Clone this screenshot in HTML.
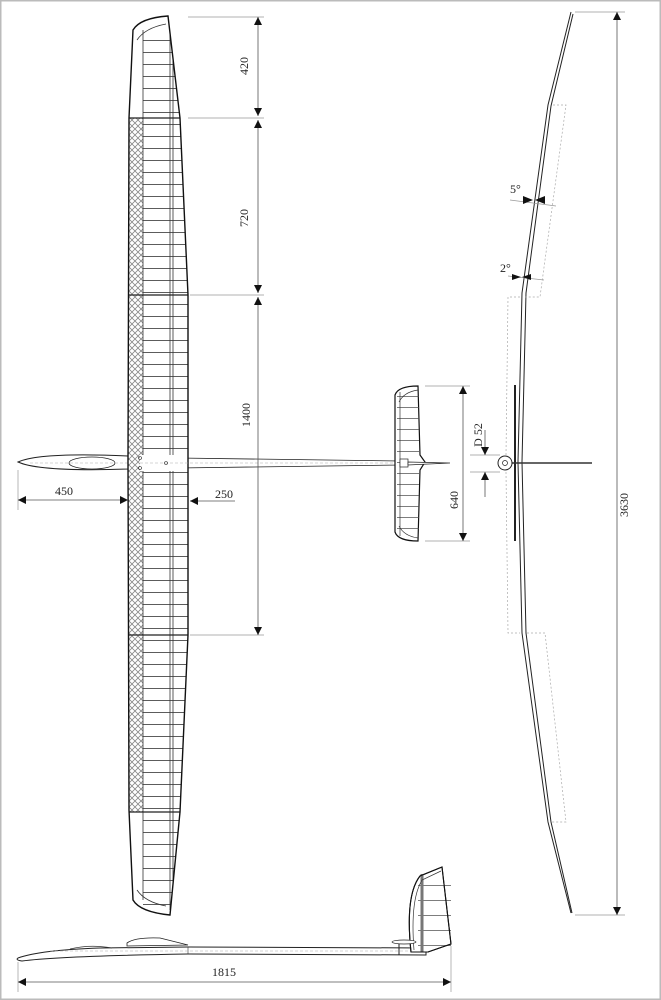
<!DOCTYPE html>
<html><head><meta charset="utf-8"><style>
html,body{margin:0;padding:0;background:#fff}
svg{display:block}
text{font-family:"Liberation Serif",serif;font-size:12px;fill:#222}
</style></head><body>
<svg width="661" height="1000" viewBox="0 0 661 1000" xmlns="http://www.w3.org/2000/svg">
<defs>
<pattern id="ribs" width="10" height="12" patternUnits="userSpaceOnUse" y="4"><line x1="0" y1="0.5" x2="10" y2="0.5" stroke="#333" stroke-width="0.8"/></pattern>
<pattern id="ribs2" width="10" height="11" patternUnits="userSpaceOnUse"><line x1="0" y1="0.5" x2="10" y2="0.5" stroke="#444" stroke-width="0.7"/></pattern>
<pattern id="ribs3" width="10" height="15" patternUnits="userSpaceOnUse"><line x1="0" y1="0.5" x2="10" y2="0.5" stroke="#444" stroke-width="0.7"/></pattern>
<pattern id="hatch" width="6" height="6" patternUnits="userSpaceOnUse"><path d="M0,6 L6,0 M0,0 L6,6" stroke="#888" stroke-width="0.8"/></pattern>
<marker id="a" viewBox="0 0 10 10" refX="10" refY="5" markerWidth="8" markerHeight="8" orient="auto-start-reverse" markerUnits="userSpaceOnUse"><path d="M0,0 L10,5 L0,10 z" fill="#111"/></marker>
<clipPath id="wc"><path d="M133,30 Q140,18 168,16 L180,118 L188,295 L188,635 L180,812 L170,915 Q140,912 133,900 L129,810 L128,462 L129,118 Z"/></clipPath>
</defs>
<rect x="0.5" y="0.5" width="660" height="999" fill="none" stroke="#bbb" stroke-width="2"/>

<!-- fuselage top view -->
<path d="M18,462 Q40,452 128,456 L128,469 Q40,472 18,462 Z" fill="#fff" stroke="#222" stroke-width="1"/>
<ellipse cx="92" cy="463" rx="23" ry="6" fill="#fff" stroke="#222" stroke-width="0.8"/>
<path d="M178,458 L400,461 L400,465 L178,468 Q172,463 178,458 Z" fill="#fff" stroke="#222" stroke-width="0.8"/>
<line x1="30" y1="463" x2="400" y2="463" stroke="#aaa" stroke-width="0.6" stroke-dasharray="3,2"/>

<!-- main wing -->
<g clip-path="url(#wc)">
<rect x="128" y="0" width="70" height="1000" fill="#fff"/>
<rect x="143" y="30" width="45" height="880" fill="url(#ribs)"/>
<rect x="128" y="118" width="15" height="694" fill="url(#hatch)"/>
<line x1="143" y1="30" x2="143" y2="900" stroke="#333" stroke-width="0.8"/>
<line x1="170" y1="20" x2="170" y2="910" stroke="#333" stroke-width="0.8"/>
<line x1="173" y1="20" x2="173" y2="910" stroke="#333" stroke-width="0.8"/>
<line x1="128" y1="118" x2="190" y2="118" stroke="#222" stroke-width="1.2"/>
<line x1="128" y1="295" x2="190" y2="295" stroke="#222" stroke-width="1.2"/>
<line x1="128" y1="635" x2="190" y2="635" stroke="#222" stroke-width="1.2"/>
<line x1="128" y1="812" x2="190" y2="812" stroke="#222" stroke-width="1.2"/>
<rect x="140" y="455" width="50" height="16" fill="#fff"/>
</g>
<path d="M133,30 Q140,18 168,16 L180,118 L188,295 L188,635 L180,812 L170,915 Q140,912 133,900 L129,810 L128,462 L129,118 Z" fill="none" stroke="#111" stroke-width="1.4"/>
<path d="M137,40 Q145,28 166,24" fill="none" stroke="#333" stroke-width="0.8"/>
<path d="M137,890 Q145,902 166,906" fill="none" stroke="#333" stroke-width="0.8"/>
<line x1="140" y1="463" x2="190" y2="463" stroke="#aaa" stroke-width="0.6" stroke-dasharray="3,2"/>
<circle cx="140" cy="458" r="1.5" fill="none" stroke="#222" stroke-width="0.6"/>
<circle cx="140" cy="468" r="1.5" fill="none" stroke="#222" stroke-width="0.6"/>
<circle cx="166" cy="463" r="1.5" fill="none" stroke="#222" stroke-width="0.6"/>

<!-- wing dims -->
<g stroke="#999" stroke-width="0.7">
<line x1="188" y1="17" x2="264" y2="17"/>
<line x1="188" y1="118" x2="264" y2="118"/>
<line x1="190" y1="295" x2="264" y2="295"/>
<line x1="190" y1="635" x2="264" y2="635"/>
<line x1="18" y1="470" x2="18" y2="510"/>
</g>
<g stroke="#555" stroke-width="0.8">
<line x1="258" y1="17" x2="258" y2="116" marker-start="url(#a)" marker-end="url(#a)"/>
<line x1="258" y1="120" x2="258" y2="293" marker-start="url(#a)" marker-end="url(#a)"/>
<line x1="258" y1="297" x2="258" y2="635" marker-start="url(#a)" marker-end="url(#a)"/>
<line x1="18" y1="500" x2="128" y2="500" marker-start="url(#a)" marker-end="url(#a)"/>
<line x1="235" y1="501" x2="190" y2="501" marker-end="url(#a)"/>
</g>
<text transform="translate(248,66) rotate(-90)" text-anchor="middle">420</text>
<text transform="translate(248,218) rotate(-90)" text-anchor="middle">720</text>
<text transform="translate(250,415) rotate(-90)" text-anchor="middle">1400</text>
<text x="64" y="495" text-anchor="middle">450</text>
<text x="224" y="498" text-anchor="middle">250</text>

<!-- tailplane -->
<path d="M395,395 Q398,386 418,386 L420,455 L425,462 L420,470 L418,541 Q398,541 395,532 Z" fill="#fff" stroke="#111" stroke-width="1.2"/>
<rect x="397" y="395" width="22" height="137" fill="url(#ribs2)"/>
<line x1="400" y1="392" x2="400" y2="536" stroke="#333" stroke-width="0.7"/>
<path d="M399,402 Q404,392 418,390" fill="none" stroke="#333" stroke-width="0.7"/>
<path d="M399,526 Q404,536 418,538" fill="none" stroke="#333" stroke-width="0.7"/>
<rect x="400" y="459" width="8" height="8" fill="#fff" stroke="#222" stroke-width="0.7"/>
<path d="M408,462 L450,463 L408,465 Z" fill="#fff" stroke="#222" stroke-width="0.7"/>
<g stroke="#999" stroke-width="0.7">
<line x1="425" y1="386" x2="470" y2="386"/><line x1="425" y1="541" x2="470" y2="541"/>
<line x1="470" y1="455" x2="500" y2="455"/><line x1="470" y1="472" x2="500" y2="472"/>
</g>
<line x1="463" y1="386" x2="463" y2="541" stroke="#555" stroke-width="0.8" marker-start="url(#a)" marker-end="url(#a)"/>
<line x1="485" y1="430" x2="485" y2="455" stroke="#555" stroke-width="0.8" marker-end="url(#a)"/>
<line x1="485" y1="497" x2="485" y2="472" stroke="#555" stroke-width="0.8" marker-end="url(#a)"/>
<text transform="translate(458,500) rotate(-90)" text-anchor="middle">640</text>
<text transform="translate(482,435) rotate(-90)" text-anchor="middle">D 52</text>

<!-- front view -->
<g fill="none" stroke="#222" stroke-width="1">
<polyline points="571,12 548,105 522,293 518,462 522,633 548,822 571,913"/>
<polyline points="573,14 551,106 526,293 522,462 526,633 551,822 572,913"/>
</g>
<g fill="none" stroke="#aaa" stroke-width="0.7" stroke-dasharray="2,2">
<polyline points="553,105 566,105 540,297 525,297"/>
<polyline points="520,297 508,297 506,455"/>
<polyline points="506,472 508,633 520,633"/>
<polyline points="527,633 545,633 566,822 552,822"/>
</g>
<line x1="515" y1="385" x2="515" y2="541" stroke="#222" stroke-width="2"/>
<line x1="512" y1="463" x2="592" y2="463" stroke="#333" stroke-width="1.5"/>
<circle cx="505" cy="463" r="7" fill="#fff" stroke="#222" stroke-width="1"/>
<circle cx="505" cy="463" r="2.5" fill="none" stroke="#222" stroke-width="0.7"/>
<g stroke="#999" stroke-width="0.7">
<line x1="575" y1="12" x2="625" y2="12"/><line x1="575" y1="915" x2="625" y2="915"/>
<line x1="510" y1="200" x2="556" y2="206"/><line x1="508" y1="276" x2="544" y2="280"/>
</g>
<line x1="617" y1="12" x2="617" y2="915" stroke="#555" stroke-width="0.8" marker-start="url(#a)" marker-end="url(#a)"/>
<text transform="translate(628,505) rotate(-90)" text-anchor="middle">3630</text>
<path d="M523,196 L533,200 L523,204 Z M545,196 L535,200 L545,204 Z" fill="#111"/>
<path d="M512,274 L521,277 L512,280 Z M531,274 L522,277 L531,280 Z" fill="#111"/>
<text x="510" y="193" font-size="10">5°</text>
<text x="500" y="272" font-size="10">2°</text>

<!-- side view -->
<path d="M18,958 Q40,950 100,948 L188,947 L426,948 L426,955 L188,954 Q60,956 22,961 Q15,960 18,958 Z" fill="#fff" stroke="#222" stroke-width="1"/>
<line x1="188" y1="947" x2="188" y2="954" stroke="#333" stroke-width="0.6"/>
<line x1="50" y1="951" x2="420" y2="951" stroke="#aaa" stroke-width="0.6" stroke-dasharray="3,2"/>
<path d="M70,949 Q90,944 112,948" fill="none" stroke="#333" stroke-width="0.7"/>
<path d="M127,943 Q135,937 160,938 L188,945 L127,946 Z" fill="#fff" stroke="#222" stroke-width="0.8"/>
<path d="M411,952 Q405,895 420,876 L442,867 L451,944 L428,952 Z" fill="#fff" stroke="#111" stroke-width="1.1"/>
<rect x="418" y="872" width="33" height="75" fill="url(#ribs3)"/>
<line x1="422" y1="874" x2="422" y2="952" stroke="#777" stroke-width="3"/>
<path d="M411,952 Q405,895 420,876 L442,867 L451,944 L428,952 Z" fill="none" stroke="#111" stroke-width="1.1"/>
<path d="M414,950 Q410,900 422,880 L441,871" fill="none" stroke="#333" stroke-width="0.7"/>
<ellipse cx="404" cy="942" rx="12" ry="2" fill="#fff" stroke="#222" stroke-width="0.7"/>
<line x1="399" y1="944" x2="399" y2="955" stroke="#222" stroke-width="1"/>
<g stroke="#999" stroke-width="0.7"><line x1="18" y1="962" x2="18" y2="992"/><line x1="451" y1="946" x2="451" y2="992"/></g>
<line x1="18" y1="982" x2="451" y2="982" stroke="#555" stroke-width="0.8" marker-start="url(#a)" marker-end="url(#a)"/>
<text x="224" y="976" text-anchor="middle">1815</text>
</svg>
</body></html>
